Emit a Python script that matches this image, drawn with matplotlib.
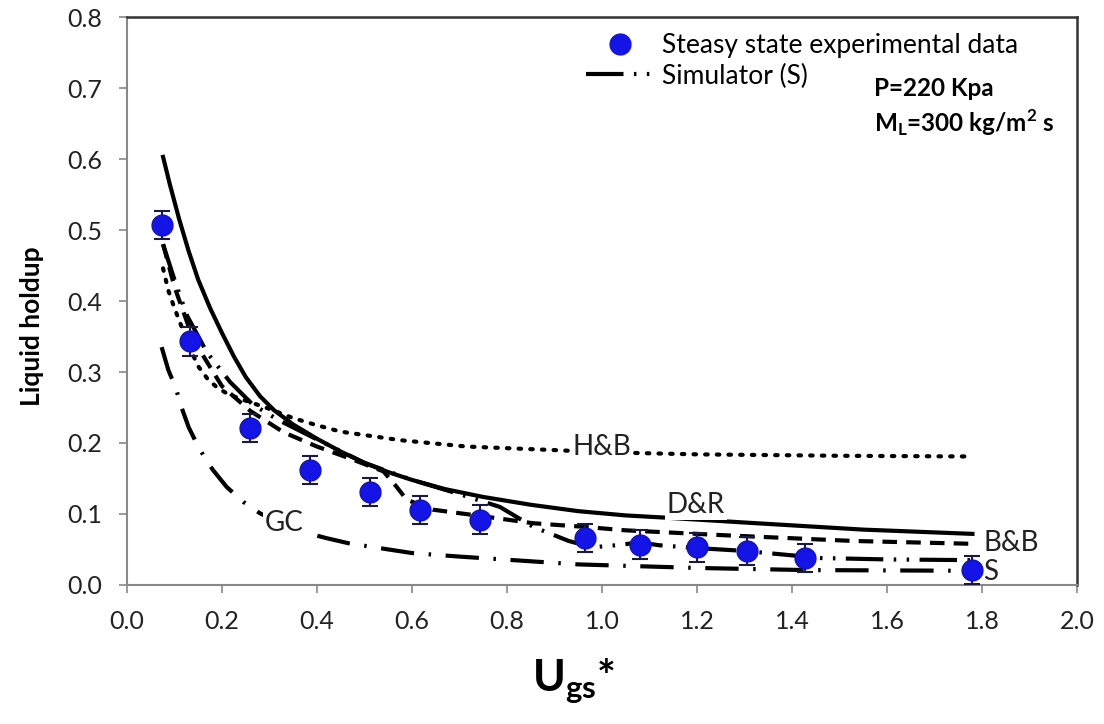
import matplotlib
matplotlib.use("Agg")
import matplotlib.pyplot as plt
from matplotlib.lines import Line2D

plt.rcParams['font.family'] = ['Lato', 'DejaVu Sans']
plt.rcParams['mathtext.fontset'] = 'custom'
plt.rcParams['mathtext.rm'] = 'Lato'
plt.rcParams['mathtext.bf'] = 'Lato:bold'

# Experimental data (steady state)
exp_x = [0.073, 0.133, 0.259, 0.385, 0.512, 0.617, 0.743, 0.964, 1.08, 1.20, 1.305, 1.427, 1.78]
exp_y = [0.507, 0.343, 0.221, 0.162, 0.131, 0.106, 0.092, 0.066, 0.057, 0.053, 0.048, 0.038, 0.021]
exp_err = [0.02] * 13

# D&R model (solid)
dr_x = [0.076, 0.09, 0.11, 0.13, 0.15, 0.175, 0.20, 0.225, 0.25, 0.28, 0.31, 0.35, 0.40, 0.45, 0.50,
        0.55, 0.60, 0.67, 0.75, 0.85, 0.95, 1.05, 1.13, 1.30, 1.55, 1.78]
dr_y = [0.603, 0.565, 0.515, 0.47, 0.43, 0.39, 0.355, 0.322, 0.293, 0.266, 0.246, 0.226, 0.206, 0.188, 0.172,
        0.159, 0.148, 0.135, 0.124, 0.113, 0.104, 0.098, 0.095, 0.088, 0.078, 0.072]

# H&B model (dotted)
hb_x = [0.076, 0.087, 0.10, 0.12, 0.135, 0.15, 0.17, 0.19, 0.215, 0.24, 0.27, 0.30, 0.35, 0.40, 0.45,
        0.575, 0.715, 0.90, 1.00, 1.20, 1.50, 1.78]
hb_y = [0.446, 0.415, 0.39, 0.355, 0.33, 0.308, 0.29, 0.278, 0.268, 0.262, 0.255, 0.248, 0.235, 0.225, 0.216,
        0.204, 0.195, 0.190, 0.187, 0.184, 0.182, 0.181]

# B&B model (dashed)
bb_x = [0.076, 0.10, 0.14, 0.20, 0.26, 0.33, 0.40, 0.47, 0.54, 0.568, 0.589, 0.645, 0.758, 0.855, 0.96,
        1.05, 1.26, 1.53, 1.78]
bb_y = [0.48, 0.42, 0.345, 0.28, 0.245, 0.215, 0.195, 0.178, 0.160, 0.138, 0.120, 0.106, 0.096, 0.087, 0.082,
        0.077, 0.070, 0.062, 0.058]

# GC model (dash-dot)
gc_x = [0.073, 0.087, 0.103, 0.115, 0.13, 0.15, 0.165, 0.181, 0.21, 0.245, 0.28, 0.33, 0.38, 0.42, 0.465,
        0.512, 0.60, 0.70, 0.95, 1.20, 1.43, 1.78]
gc_y = [0.335, 0.303, 0.277, 0.25, 0.222, 0.195, 0.178, 0.162, 0.138, 0.117, 0.101, 0.085, 0.073, 0.066, 0.059,
        0.054, 0.045, 0.040, 0.029, 0.024, 0.021, 0.020]

# Simulator (S) (dash-dot-dot)
s_x = [0.076, 0.10, 0.126, 0.168, 0.217, 0.265, 0.32, 0.40, 0.50, 0.60, 0.70, 0.785, 0.855, 0.93, 0.98,
       1.03, 1.08, 1.12, 1.20, 1.30, 1.46, 1.60, 1.78]
s_y = [0.48, 0.43, 0.38, 0.328, 0.286, 0.254, 0.232, 0.205, 0.172, 0.148, 0.128, 0.110, 0.082, 0.062, 0.053,
       0.056, 0.060, 0.056, 0.052, 0.048, 0.038, 0.036, 0.035]

x_ticks = [0.0, 0.2, 0.4, 0.6, 0.8, 1.0, 1.2, 1.4, 1.6, 1.8, 2.0]
y_ticks = [0.0, 0.1, 0.2, 0.3, 0.4, 0.5, 0.6, 0.7, 0.8]

fig = plt.figure(figsize=(11.04, 7.24), dpi=100)
ax = fig.add_axes([0.115, 0.192, 0.8605, 0.7845])

lw = 3.0
s_style = (0, (9, 2.5, 0.6, 2.5, 0.6, 2.5))
ax.plot(hb_x, hb_y, color='black', lw=lw, linestyle=(0, (0.6, 2.2)), dash_capstyle='round')
ax.plot(dr_x, dr_y, color='black', lw=lw)
ax.plot(bb_x, bb_y, color='black', lw=lw, linestyle=(0, (3.5, 2.2)))
ax.plot(gc_x, gc_y, color='black', lw=lw, linestyle=(0, (8, 3.5, 0.6, 3.5)))
ax.plot(s_x, s_y, color='black', lw=lw, linestyle=s_style)

ax.errorbar(exp_x, exp_y, yerr=exp_err, fmt='none', ecolor='#1a1a40', elinewidth=1.5,
            capsize=6, capthick=1.5, zorder=4)
ax.plot(exp_x, exp_y, 'o', color='#1414e6', markersize=15, markeredgecolor='#1010c8', zorder=5)

tkw = dict(fontsize=20, color='#222222')
ax.text(1.0, 0.194, 'H&B', ha='center', va='center',
        bbox=dict(facecolor='white', edgecolor='none', pad=1), **tkw)
ax.text(1.198, 0.112, 'D&R', ha='center', va='center',
        bbox=dict(facecolor='white', edgecolor='none', pad=1), **tkw)
ax.text(1.803, 0.059, 'B&B', ha='left', va='center', **tkw)
ax.text(1.803, 0.019, 'S', ha='left', va='center', **tkw)
ax.text(0.33, 0.087, 'GC', ha='center', va='center',
        bbox=dict(facecolor='white', edgecolor='none', pad=1), **tkw)

ax.text(1.573, 0.70, 'P=220 Kpa', fontsize=17.5, fontweight='bold', ha='left', va='center')
ax.text(1.573, 0.651, r'M$_\mathregular{L}$=300 kg/m$^\mathregular{2}$ s', fontsize=17.5,
        fontweight='bold', ha='left', va='center')

handles = [Line2D([], [], marker='o', color='#1414e6', markersize=15, linestyle='none'),
           Line2D([], [], color='black', lw=lw, linestyle=s_style)]
ax.legend(handles, ['Steasy state experimental data', 'Simulator (S)'],
          loc='upper left', bbox_to_anchor=(0.472, 0.99), frameon=False, fontsize=19,
          handlelength=2.6, handletextpad=0.3, labelspacing=0.2, borderaxespad=0)

ax.set_xlim(0, 2.0)
ax.set_ylim(0, 0.8)
ax.set_xticks(x_ticks)
ax.set_yticks(y_ticks)
ax.set_xticklabels([f'{v:.1f}' for v in x_ticks])
ax.set_yticklabels([f'{v:.1f}' for v in y_ticks])
ax.tick_params(axis='both', labelsize=18, colors='#888888', labelcolor='#222222', length=6, width=1.2,
               direction='out')
ax.tick_params(axis='x', pad=12)
ax.tick_params(axis='y', pad=12)
for s in ['left', 'bottom']:
    ax.spines[s].set_color('#888888')
    ax.spines[s].set_linewidth(1.5)
for s in ['top', 'right']:
    ax.spines[s].set_color('#333333')
    ax.spines[s].set_linewidth(1.8)

ax.set_ylabel('Liquid holdup', fontsize=19, fontweight='bold')
ax.yaxis.set_label_coords(-0.087, 0.455)
ax.set_xlabel(r'U$_\mathregular{gs}$*', fontsize=32, fontweight='bold')
ax.xaxis.set_label_coords(0.47, -0.125)

fig.savefig('out.png', dpi=100)
